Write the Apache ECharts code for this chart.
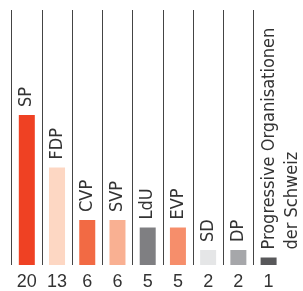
<!DOCTYPE html>
<html>
<head>
<meta charset="utf-8">
<script src="https://cdn.jsdelivr.net/npm/echarts@6/dist/echarts.min.js"></script>
<style>
  html, body { margin: 0; padding: 0; background: #fff; }
  #chart { width: 303px; height: 291px; }
</style>
</head>
<body>
<div id="chart"></div>
<script>
// Sitze je Partei
const parties = ['SP', 'FDP', 'CVP', 'SVP', 'LdU', 'EVP', 'SD', 'DP', 'Progressive Organisationen\nder Schweiz']
const seats = [20, 13, 6, 6, 5, 5, 2, 2, 1]
const colors = ['#EF4123', '#FDD7C3', '#F26A44', '#F9B092', '#7F7F82', '#F68E6B', '#E5E6E7', '#A6A7AA', '#58585A']

const chart = echarts.init(document.getElementById('chart'))

chart.setOption({
  animation: false,
  grid: { left: 11.7, right: 19.3, top: 10, bottom: 24.3 },
  xAxis: {
    type: 'category',
    data: parties,
    boundaryGap: true,
    axisLine: { show: false },
    axisTick: { show: false },
    axisLabel: {
      interval: 0,
      margin: 8,
      fontFamily: 'Liberation Sans',
      fontSize: 18,
      color: '#333',
      formatter: (v, i) => String(seats[i]),
    },
    splitLine: {
      show: true,
      interval: 0,
      showMinLine: true,
      showMaxLine: false,
      lineStyle: { color: '#444', width: 1 },
    },
  },
  yAxis: {
    type: 'value',
    min: 0,
    max: 34,
    show: false,
  },
  series: [{
    type: 'bar',
    barWidth: 16,
    data: seats.map((v, i) => ({
      value: v,
      itemStyle: { color: colors[i] },
      // zweizeiliges Label: erste Zeile über dem Balken
      label: i === parties.length - 1 ? { offset: [0, 12] } : undefined,
    })),
    label: {
      show: true,
      position: 'top',
      distance: 8,
      rotate: 90,
      align: 'left',
      verticalAlign: 'middle',
      fontFamily: 'DejaVu Sans Condensed',
      fontSize: 18,
      lineHeight: 23,
      color: '#333',
      formatter: p => p.name,
    },
  }],
})
</script>
</body>
</html>
